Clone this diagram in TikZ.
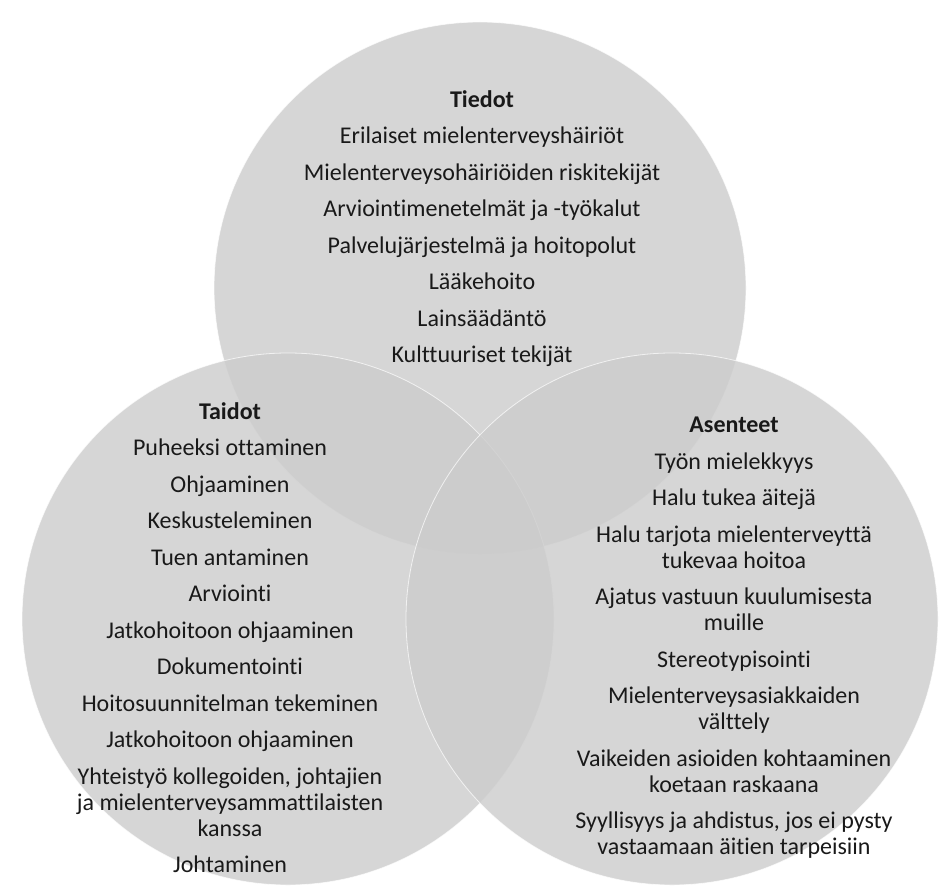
\documentclass[tikz,border=0pt]{standalone}
\usepackage{fontspec}
\setmainfont{Carlito}[Ligatures={TeX,NoCommon}]
\usetikzlibrary{positioning}

\begin{document}
\begin{tikzpicture}[x=1pt, y=-1pt,
  area/.style={
    circle, fill=black!20, fill opacity=0.8, draw=white, draw opacity=0.7,
    line width=0.8pt, minimum size=532pt, inner sep=0pt
  },
  itemlist/.style={
    align=center, inner sep=0pt, anchor=north, text=black!90,
    font=\fontsize{24}{26}\selectfont
  }
]
\useasboundingbox (0,0) rectangle (941,891);

% Circles
\node[area] (tiedot) at (480,288) {};
\node[area] (taidot) at (288,619) {};
\node[area] (asenteet) at (672,619) {};

% Texts
\node[itemlist] (tiedotText) at (482,90) {
  \textbf{Tiedot} \\[10.5pt]
  Erilaiset mielenterveyshäiriöt \\[10.5pt]
  Mielenterveysohäiriöiden riskitekijät \\[10.5pt]
  Arviointimenetelmät ja -työkalut \\[10.5pt]
  Palvelujärjestelmä ja hoitopolut \\[10.5pt]
  Lääkehoito \\[10.5pt]
  Lainsäädäntö \\[10.5pt]
  Kulttuuriset tekijät
};
\node[itemlist] (taidotText) at (230,402) {
  \textbf{Taidot} \\[10.5pt]
  Puheeksi ottaminen \\[10.5pt]
  Ohjaaminen \\[10.5pt]
  Keskusteleminen \\[10.5pt]
  Tuen antaminen \\[10.5pt]
  Arviointi \\[10.5pt]
  Jatkohoitoon ohjaaminen \\[10.5pt]
  Dokumentointi \\[10.5pt]
  Hoitosuunnitelman tekeminen \\[10.5pt]
  Jatkohoitoon ohjaaminen \\[10.5pt]
  Yhteistyö kollegoiden, johtajien \\
  ja mielenterveysammattilaisten \\
  kanssa \\[10.5pt]
  Johtaminen
};
\node[itemlist] (asenteetText) at (734,417) {
  \textbf{Asenteet} \\[10.5pt]
  Työn mielekkyys \\[10.5pt]
  Halu tukea äitejä \\[10.5pt]
  Halu tarjota mielenterveyttä \\
  tukevaa hoitoa \\[10.5pt]
  Ajatus vastuun kuulumisesta \\
  muille \\[10.5pt]
  Stereotypisointi \\[10.5pt]
  Mielenterveysasiakkaiden \\
  välttely \\[10.5pt]
  Vaikeiden asioiden kohtaaminen \\
  koetaan raskaana \\[10.5pt]
  Syyllisyys ja ahdistus, jos ei pysty \\
  vastaamaan äitien tarpeisiin
};

\end{tikzpicture}
\end{document}
